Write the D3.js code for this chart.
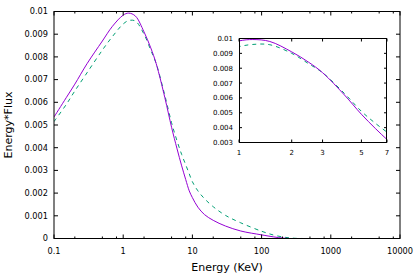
<!DOCTYPE html>
<html lang="en">
<head>
    <meta charset="UTF-8">
    <title>Energy*Flux</title>
    <script src="https://d3js.org/d3.v7.min.js"></script>
    <style>
        body { margin: 0; background: #fff; }
        svg { display: block; font-family: "DejaVu Sans", sans-serif; }
        .tick-label { font-size: 8.2px; fill: #000; }
        .inset-label { font-size: 7px; fill: #000; }
        .axis-title { font-size: 11px; fill: #000; }
    </style>
</head>
<body>
    <svg id="chart" width="415" height="273"></svg>
    <script>
        // energies (KeV) and the two series
        const energy = [0.1, 0.15, 0.2, 0.3, 0.5, 0.7, 1.0, 1.2, 1.5, 2, 2.5, 3, 4, 5, 6, 7, 8, 9, 10, 12, 15, 20, 30, 50, 100, 150, 200, 250, 300, 400];
        const solidFlux = [0.00535, 0.0062, 0.0068, 0.0077, 0.0087, 0.00935, 0.00984, 0.00993, 0.0098, 0.0091, 0.0084, 0.0077, 0.0062, 0.0049, 0.00395, 0.0032, 0.0026, 0.0021, 0.0018, 0.00138, 0.00105, 0.0008, 0.00055, 0.00033, 0.00016, 0.00007, 0.00002, 0, 0, 0];
        const dashedFlux = [0.00515, 0.0059, 0.0065, 0.0073, 0.0083, 0.0089, 0.00945, 0.0096, 0.00958, 0.0090, 0.0083, 0.0077, 0.0063, 0.0051, 0.0043, 0.0037, 0.00325, 0.00285, 0.0025, 0.0021, 0.00175, 0.0014, 0.00102, 0.00069, 0.00032, 0.00015, 0.00007, 0.00003, 0.00001, 0];

        const xMajor = [0.1, 1, 10, 100, 1000, 10000];
        const xMinorMult = [2, 5, 8];
        const yTicks = [0, 0.001, 0.002, 0.003, 0.004, 0.005, 0.006, 0.007, 0.008, 0.009, 0.01];
        const insetXTicks = [1, 2, 3, 5, 7];
        const insetYTicks = [0.003, 0.004, 0.005, 0.006, 0.007, 0.008, 0.009, 0.01];

        const solidColor = "#9400d3";
        const dashedColor = "#009e73";

        const svg = d3.select("#chart");

        const x = d3.scaleLog().domain([0.1, 10000]).range([54, 400]);
        const y = d3.scaleLinear().domain([0, 0.01]).range([238.5, 11.5]);

        const xi = d3.scaleLog().domain([1, 7]).range([239, 387]);
        const yi = d3.scaleLinear().domain([0.003, 0.01]).range([142.5, 38.5]);

        const solidData = energy.map((e, i) => ({ e, v: solidFlux[i] }));
        const dashedData = energy.map((e, i) => ({ e, v: dashedFlux[i] }));

        function drawPanel(sx, sy, id, inset) {
            const [x0, x1] = sx.range();
            const [y0, y1] = sy.range();

            svg.append("clipPath").attr("id", id)
                .append("rect")
                .attr("x", x0).attr("y", y1)
                .attr("width", x1 - x0).attr("height", y0 - y1);

            if (inset) {
                svg.append("rect")
                    .attr("x", x0).attr("y", y1)
                    .attr("width", x1 - x0).attr("height", y0 - y1)
                    .attr("fill", "#fff");
            }

            const line = d3.line()
                .x(d => sx(d.e))
                .y(d => sy(d.v))
                .curve(d3.curveCatmullRom.alpha(0.5));

            const plot = svg.append("g").attr("clip-path", `url(#${id})`);

            plot.append("path")
                .datum(dashedData)
                .attr("fill", "none")
                .attr("stroke", dashedColor)
                .attr("stroke-width", 1)
                .attr("stroke-dasharray", "4,4")
                .attr("d", line);

            plot.append("path")
                .datum(solidData)
                .attr("fill", "none")
                .attr("stroke", solidColor)
                .attr("stroke-width", 1)
                .attr("d", line);
        }

        drawPanel(x, y, "clip-main", false);

        // main frame ticks
        const tk = svg.append("g").attr("stroke", "#000").attr("stroke-width", 1);
        yTicks.forEach(t => {
            tk.append("line").attr("x1", 54).attr("x2", 58).attr("y1", y(t)).attr("y2", y(t));
            tk.append("line").attr("x1", 400).attr("x2", 396).attr("y1", y(t)).attr("y2", y(t));
        });
        xMajor.forEach(t => {
            tk.append("line").attr("x1", x(t)).attr("x2", x(t)).attr("y1", 238.5).attr("y2", 234.5);
            tk.append("line").attr("x1", x(t)).attr("x2", x(t)).attr("y1", 11.5).attr("y2", 15.5);
        });
        xMajor.slice(0, -1).forEach(t => {
            xMinorMult.forEach(m => {
                const v = t * m;
                tk.append("line").attr("x1", x(v)).attr("x2", x(v)).attr("y1", 238.5).attr("y2", 236.5);
                tk.append("line").attr("x1", x(v)).attr("x2", x(v)).attr("y1", 11.5).attr("y2", 13.5);
            });
        });

        svg.append("rect")
            .attr("x", 54).attr("y", 11.5)
            .attr("width", 346).attr("height", 227)
            .attr("fill", "none").attr("stroke", "#000").attr("stroke-width", 1);

        svg.selectAll(".ylab").data(yTicks).enter().append("text")
            .attr("class", "tick-label")
            .attr("x", 48).attr("y", d => y(d))
            .attr("dy", "0.35em")
            .attr("text-anchor", "end")
            .text(d => d3.format("~g")(d));

        svg.selectAll(".xlab").data(xMajor).enter().append("text")
            .attr("class", "tick-label")
            .attr("x", d => x(d)).attr("y", 254)
            .attr("text-anchor", "middle")
            .text(d => d3.format("~g")(d));

        svg.append("text")
            .attr("class", "axis-title")
            .attr("x", 227).attr("y", 271)
            .attr("text-anchor", "middle")
            .text("Energy (KeV)");

        svg.append("text")
            .attr("class", "axis-title")
            .attr("transform", "translate(12,125) rotate(-90)")
            .attr("text-anchor", "middle")
            .text("Energy*Flux");

        // inset
        drawPanel(xi, yi, "clip-inset", true);

        const ti = svg.append("g").attr("stroke", "#000").attr("stroke-width", 1);
        insetYTicks.forEach(t => {
            ti.append("line").attr("x1", 239).attr("x2", 242).attr("y1", yi(t)).attr("y2", yi(t));
            ti.append("line").attr("x1", 387).attr("x2", 384).attr("y1", yi(t)).attr("y2", yi(t));
        });
        insetXTicks.forEach(t => {
            ti.append("line").attr("x1", xi(t)).attr("x2", xi(t)).attr("y1", 142.5).attr("y2", 139.5);
            ti.append("line").attr("x1", xi(t)).attr("x2", xi(t)).attr("y1", 38.5).attr("y2", 41.5);
        });

        svg.append("rect")
            .attr("x", 239.5).attr("y", 38.5)
            .attr("width", 147).attr("height", 104)
            .attr("fill", "none").attr("stroke", "#000").attr("stroke-width", 1);

        svg.selectAll(".iylab").data(insetYTicks).enter().append("text")
            .attr("class", "inset-label")
            .attr("x", 233).attr("y", d => yi(d))
            .attr("dy", "0.35em")
            .attr("text-anchor", "end")
            .text(d => d3.format("~g")(d));

        svg.selectAll(".ixlab").data(insetXTicks).enter().append("text")
            .attr("class", "inset-label")
            .attr("x", d => xi(d)).attr("y", 155)
            .attr("text-anchor", "middle")
            .text(d => d);
    </script>
</body>
</html>
